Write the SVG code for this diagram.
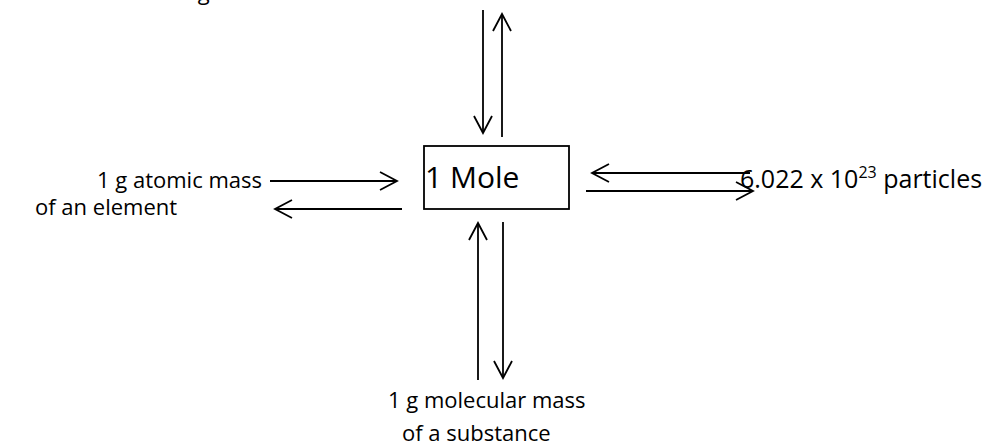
<svg xmlns="http://www.w3.org/2000/svg" width="1000" height="448" viewBox="0 0 1000 448">
  <style>
    .lbl { font-family: "Open Sans", "Liberation Sans", sans-serif; font-size: 22px; fill: #000; }
    .big { font-family: "Open Sans", "Liberation Sans", sans-serif; font-size: 30px; fill: #000; }
    .wide { font-size: 25px; }
    .sup { font-size: 16px; }
    .arrow { stroke: #000; stroke-width: 1.8; fill: none; marker-end: url(#open); }
    .box { fill: #fff; stroke: #000; stroke-width: 1.8; }
  </style>
  <defs>
    <marker id="open" markerUnits="userSpaceOnUse" markerWidth="24" markerHeight="24" viewBox="-20 -12 24 24" refX="0" refY="0" orient="auto" overflow="visible">
      <path d="M -17 -9 L 0 0 L -17 9" fill="none" stroke="#000" stroke-width="1.8"/>
    </marker>
  </defs>
  <rect width="1000" height="448" fill="#fff"/>

  <!-- label running off the top edge -->
  <g id="gas-volume">
    <text class="lbl" x="87" y="0">22.4 L of a gas at STP</text>
  </g>

  <g id="mole">
    <rect class="box" x="424" y="146" width="145" height="63"/>
    <text class="big" x="425" y="188">1 Mole</text>
  </g>

  <g id="atomic-mass">
    <text class="lbl" x="97" y="188">1 g atomic mass</text>
    <text class="lbl" x="35" y="215">of an element</text>
  </g>

  <g id="particles">
    <text class="lbl wide" x="740" y="188">6.022 x 10<tspan class="sup" dy="-10">23</tspan><tspan dy="10"> particles</tspan></text>
  </g>

  <g id="molecular-mass">
    <text class="lbl" x="388" y="408">1 g molecular mass</text>
    <text class="lbl" x="402" y="441">of a substance</text>
  </g>

  <g id="connectors">
    <!-- top pair -->
    <line class="arrow" x1="483" y1="10" x2="483" y2="133"/>
    <line class="arrow" x1="502" y1="137" x2="502" y2="14"/>
    <!-- left pair -->
    <line class="arrow" x1="270" y1="181" x2="397" y2="181"/>
    <line class="arrow" x1="402" y1="209" x2="275" y2="209"/>
    <!-- right pair -->
    <line class="arrow" x1="750" y1="173" x2="592" y2="173"/>
    <line class="arrow" x1="586" y1="191" x2="753" y2="191"/>
    <!-- bottom pair -->
    <line class="arrow" x1="478" y1="380" x2="478" y2="223"/>
    <line class="arrow" x1="503" y1="222" x2="503" y2="378"/>
  </g>
</svg>
